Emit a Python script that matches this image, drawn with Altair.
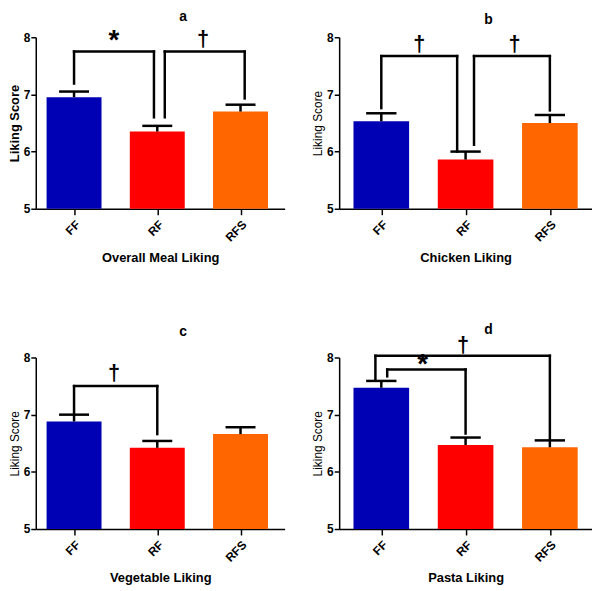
import altair as alt
import pandas as pd

categories = ["FF", "RF", "RFS"]
colors = ["#0000B4", "#FF0000", "#FF6600"]

letters = ["a", "b", "c", "d"]
x_titles = ["Overall Meal Liking", "Chicken Liking", "Vegetable Liking", "Pasta Liking"]

means_a = [6.95, 6.35, 6.70]
sems_a = [0.10, 0.10, 0.12]
means_b = [6.53, 5.86, 6.50]
sems_b = [0.14, 0.14, 0.14]
means_c = [6.88, 6.42, 6.66]
sems_c = [0.12, 0.12, 0.12]
means_d = [7.47, 6.47, 6.43]
sems_d = [0.12, 0.13, 0.12]

# brackets: (x_left, x_right, top, left_bottom, right_bottom)
brackets_a = [(0.0, 0.96, 7.75, 7.19, 6.60), (1.09, 2.05, 7.75, 6.60, 6.93)]
brackets_b = [(0.0, 0.90, 7.67, 6.76, 6.00), (1.10, 2.0, 7.67, 6.12, 6.72)]
brackets_c = [(0.0, 1.0, 7.50, 7.00, 6.66)]
brackets_d = [(-0.07, 2.0, 8.03, 7.62, 6.56), (0.07, 1.0, 7.79, 7.67, 6.67)]

# significance marks: (x, y, symbol)
marks_a = [(0.48, 7.97, "*"), (1.55, 7.97, "†")]
marks_b = [(0.45, 7.88, "†"), (1.58, 7.88, "†")]
marks_c = [(0.48, 7.72, "†")]
marks_d = [(0.49, 7.91, "*"), (0.97, 8.22, "†")]

FONT = "Liberation Sans"
HALF_BAR = 0.33
HALF_CAP = 0.18
H = 173

label_expr = "[" + ",".join(f"'{c}'" for c in categories) + "][datum.value]"


def panel(letter, means, sems, brackets, marks, xtitle, ybold, width, xdomain, toff):
    bars = pd.DataFrame({
        "cat": categories,
        "idx": list(range(len(categories))),
        "mean": means,
        "sem": sems,
    })
    bars["lo"] = bars["idx"] - HALF_BAR
    bars["hi"] = bars["idx"] + HALF_BAR
    bars["base"] = 5.0
    bars["top"] = bars["mean"] + bars["sem"]
    bars["clo"] = bars["idx"] - HALF_CAP
    bars["chi"] = bars["idx"] + HALF_CAP

    segs = []
    for (xl, xr, top, lb, rb) in brackets:
        segs.append({"x1": xl, "x2": xr, "y1": top, "y2": top})
        segs.append({"x1": xl, "x2": xl, "y1": top, "y2": lb})
        segs.append({"x1": xr, "x2": xr, "y1": top, "y2": rb})
    segs = pd.DataFrame(segs)
    txt = pd.DataFrame(marks, columns=["x", "y", "s"])
    txt["size"] = [28 if s == "*" else 22 for s in txt["s"]]
    txt["yy"] = [y - 0.04 if s == "*" else y for y, s in zip(txt["y"], txt["s"])]

    xs = alt.Scale(domain=xdomain, nice=False, zero=False)
    ys = alt.Scale(domain=[5, 8], nice=False, zero=False)

    xaxis = alt.Axis(values=[0, 1, 2], labelExpr=label_expr, labelAngle=-45,
                     title=xtitle, tickSize=6, grid=False, labelPadding=4,
                     titleFontSize=13, titleFontWeight="bold", titlePadding=8)
    yaxis = alt.Axis(values=[5, 6, 7, 8], format="d", title="Liking Score",
                     tickSize=5, grid=False, labelPadding=1,
                     titleFontSize=13 if ybold else 12,
                     titleFontWeight="bold" if ybold else "normal",
                     titlePadding=2)

    base = alt.Chart(bars)
    rect = base.mark_rect().encode(
        x=alt.X("lo:Q", scale=xs, axis=xaxis),
        x2="hi:Q",
        y=alt.Y("base:Q", scale=ys, axis=yaxis),
        y2="mean:Q",
        color=alt.Color("cat:N", scale=alt.Scale(domain=categories, range=colors), legend=None),
    )
    err = base.mark_rule(color="black", strokeWidth=2.5).encode(
        x=alt.X("idx:Q", scale=xs, axis=xaxis),
        y=alt.Y("mean:Q", scale=ys, axis=yaxis),
        y2="top:Q",
    )
    cap = base.mark_rule(color="black", strokeWidth=2.5).encode(
        x=alt.X("clo:Q", scale=xs, axis=xaxis),
        x2="chi:Q",
        y=alt.Y("top:Q", scale=ys, axis=yaxis),
    )
    br = alt.Chart(segs).mark_rule(color="black", strokeWidth=2.5, strokeCap="square").encode(
        x=alt.X("x1:Q", scale=xs, axis=xaxis),
        x2="x2:Q",
        y=alt.Y("y1:Q", scale=ys, axis=yaxis),
        y2="y2:Q",
    )
    tx = alt.Chart(txt).mark_text(fontWeight="bold", font=FONT, color="black",
                                  baseline="middle").encode(
        x=alt.X("x:Q", scale=xs, axis=xaxis),
        y=alt.Y("yy:Q", scale=ys, axis=yaxis),
        text="s:N",
        size=alt.Size("size:Q", scale=None, legend=None),
    )
    return alt.layer(rect, err, cap, br, tx).properties(
        width=width, height=H,
        title=alt.TitleParams(letter, fontSize=14, fontWeight="bold", font=FONT,
                              anchor="middle", dx=23, offset=toff, frame="group"),
    )


LEFT_W, RIGHT_W = 251, 255
LEFT_DOM, RIGHT_DOM = [-0.46, 2.53], [-0.5, 2.5]

pa = panel("a", means_a, sems_a, brackets_a, marks_a, x_titles[0], True, LEFT_W, LEFT_DOM, 3)
pb = panel("b", means_b, sems_b, brackets_b, marks_b, x_titles[1], False, RIGHT_W, RIGHT_DOM, 4)
pc = panel("c", means_c, sems_c, brackets_c, marks_c, x_titles[2], False, LEFT_W, LEFT_DOM, 13)
pd_ = panel("d", means_d, sems_d, brackets_d, marks_d, x_titles[3], False, RIGHT_W, RIGHT_DOM, -3)

chart = alt.vconcat(
    alt.hconcat(pa, pb, spacing=27),
    alt.hconcat(pc, pd_, spacing=27),
    spacing=59,
).configure(padding=0).configure_view(stroke=None).configure_axis(
    domainColor="black", domainWidth=1.5, tickColor="black", tickWidth=1.5,
    labelFont=FONT, labelFontSize=12, labelFontWeight="bold", labelColor="black",
    titleFont=FONT, titleColor="black",
)

chart.save("out.html", embed_options={"renderer": "svg", "actions": False})
